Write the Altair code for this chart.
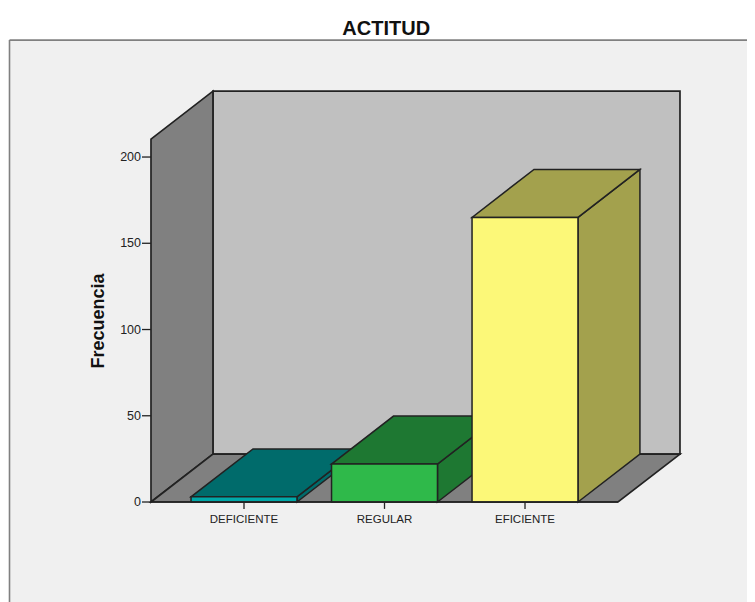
import altair as alt
import pandas as pd

# --- chart values ---
categories = ["DEFICIENTE", "REGULAR", "EFICIENTE"]
frequencies = [3, 22, 165]
front_colors = ["#00A8A8", "#2FB94A", "#FCF878"]
shade_colors = ["#006B6B", "#1E7832", "#A3A14D"]
tick_values = [0, 50, 100, 150, 200]

# --- 3D geometry in data units (slots on x, frequency on y) ---
BAR_W = 0.754
DEPTH_X = 0.441
DEPTH_Y = 27.8
WALL_TOP = 210.4
X_MIN, X_MAX = -0.662, 2.662
X_DOM_MAX = 3.580
STROKE = "#222222"

xs = alt.Scale(domain=[-1.6797, X_DOM_MAX], nice=False, zero=False)
ys = alt.Scale(domain=[-57.97, 286.4], nice=False, zero=False)
X = alt.X("x:Q", scale=xs, axis=None)
Y = alt.Y("y:Q", scale=ys, axis=None)


def poly(rows, fill, sw=1.7):
    df = pd.DataFrame(rows, columns=["x", "y", "y2"])
    return alt.Chart(df).mark_area(fill=fill, stroke=STROKE, strokeWidth=sw, opacity=1).encode(
        x=X, y=Y, y2="y2:Q"
    )


def box(x0, x1, v, base, fill_top, fill_side, fill_front):
    """Side, top and front faces of a box between base and v."""
    side = poly([(x1, base, v), (x1 + DEPTH_X, base + DEPTH_Y, v + DEPTH_Y)], fill_side, 1.5)
    top = poly(
        [
            (x0, v, v),
            (x0 + DEPTH_X, v, v + DEPTH_Y),
            (x1, v, v + DEPTH_Y),
            (x1 + DEPTH_X, v + DEPTH_Y, v + DEPTH_Y),
        ],
        fill_top,
        1.5,
    )
    front = poly([(x0, base, v), (x1, base, v)], fill_front, 1.5)
    return [side, top, front]


layers = []

# panel
panel = pd.DataFrame([{"x": -1.669, "x2": X_DOM_MAX, "y": 267.8, "y2": -57.97}])
layers.append(
    alt.Chart(panel).mark_rect(fill="#F0F0F0").encode(x=X, x2="x2:Q", y=Y, y2="y2:Q")
)
layers.append(
    alt.Chart(panel).mark_rule(color="#808080", strokeWidth=1.6).encode(x=X, y=Y, y2="y2:Q")
)
layers.append(
    alt.Chart(panel).mark_rule(color="#808080", strokeWidth=1.6).encode(x=X, x2="x2:Q", y=Y)
)

# walls and floor
layers.append(
    poly([(X_MIN + DEPTH_X, DEPTH_Y, WALL_TOP + DEPTH_Y), (X_MAX + DEPTH_X, DEPTH_Y, WALL_TOP + DEPTH_Y)], "#C0C0C0")
)
layers.append(
    poly([(X_MIN, 0, WALL_TOP), (X_MIN + DEPTH_X, DEPTH_Y, WALL_TOP + DEPTH_Y)], "#808080")
)
layers.append(
    poly(
        [
            (X_MIN, 0, 0),
            (X_MIN + DEPTH_X, 0, DEPTH_Y),
            (X_MAX, 0, DEPTH_Y),
            (X_MAX + DEPTH_X, DEPTH_Y, DEPTH_Y),
        ],
        "#808080",
    )
)

# bars
for i, v in enumerate(frequencies):
    layers += box(i - BAR_W / 2, i + BAR_W / 2, v, 0, shade_colors[i], shade_colors[i], front_colors[i])

# y ticks
ticks = pd.DataFrame({"y": tick_values, "x": [X_MIN - 0.064] * 5, "x2": [X_MIN] * 5, "lx": [X_MIN - 0.0712] * 5})
ticks["label"] = ticks["y"].astype(str)
layers.append(alt.Chart(ticks).mark_rule(color=STROKE, strokeWidth=1.3).encode(x=X, x2="x2:Q", y=Y))
layers.append(
    alt.Chart(ticks)
    .mark_text(align="right", baseline="middle", font="Liberation Sans", fontSize=12.5, color="#222222")
    .encode(x=alt.X("lx:Q", scale=xs, axis=None), y=Y, text="label:N")
)

# x ticks
cat = pd.DataFrame({"x": [0, 1, 2], "y": [0, 0, 0], "y2": [-4.0, -4.0, -4.0], "ly": [-10.5] * 3, "label": categories})
layers.append(alt.Chart(cat).mark_rule(color=STROKE, strokeWidth=1.3).encode(x=X, y=Y, y2="y2:Q"))
layers.append(
    alt.Chart(cat)
    .mark_text(align="center", baseline="middle", font="Liberation Sans", fontSize=11.5, color="#222222")
    .encode(x=X, y=alt.Y("ly:Q", scale=ys, axis=None), text="label:N")
)

# baseline from the y axis to the floor's front edge
base = pd.DataFrame([{"x": X_MIN, "x2": X_MAX, "y": 0}])
layers.append(alt.Chart(base).mark_rule(color=STROKE, strokeWidth=1.7).encode(x=X, x2="x2:Q", y=Y))

# titles
title = pd.DataFrame([{"x": 1.012, "y": 271, "t": "ACTITUD"}])
layers.append(
    alt.Chart(title)
    .mark_text(align="center", baseline="alphabetic", font="Liberation Sans", fontWeight="bold", fontSize=20, color="#111111")
    .encode(x=X, y=Y, text="t:N")
)
ytitle = pd.DataFrame([{"x": -1.03, "y": 105, "t": "Frecuencia"}])
layers.append(
    alt.Chart(ytitle)
    .mark_text(align="center", baseline="middle", angle=270, font="Liberation Sans", fontWeight="bold", fontSize=18, color="#111111")
    .encode(x=X, y=Y, text="t:N")
)

chart = (
    alt.layer(*layers)
    .properties(width=739, height=594, padding=0, autosize=alt.AutoSizeParams(type="none"))
    .configure_view(stroke=None)
)
chart.save("out.html", embed_options={"renderer": "svg", "actions": False})
